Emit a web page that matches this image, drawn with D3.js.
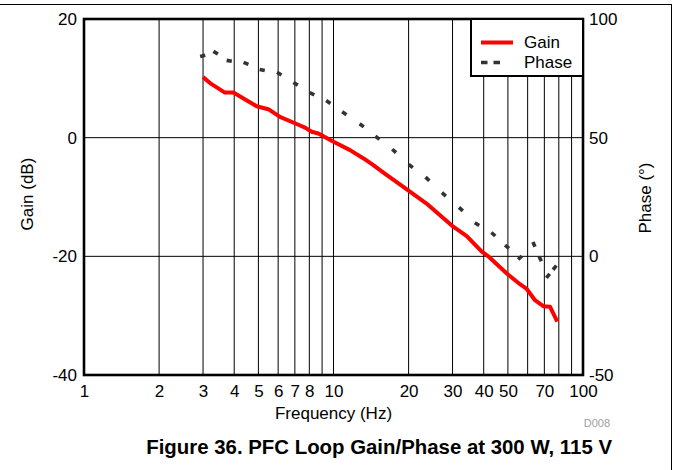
<!DOCTYPE html>
<html><head><meta charset="utf-8">
<script src="https://cdn.jsdelivr.net/npm/d3@7"></script>
<style>body{margin:0;background:#fff} svg{display:block} text{font-family:"Liberation Sans",Arial,sans-serif}</style>
</head><body><svg id="c" width="673" height="470"></svg>
<script>
const gainFreq = [3.0, 3.2, 3.67, 3.97, 4.92, 5.48, 6.1, 7.12, 7.69, 8.18, 8.7, 10.0, 11.65, 13.2, 14.4, 15.85, 19.05, 23.6, 30.2, 34.2, 39.3, 41.7, 49.5, 55.9, 59.5, 64.2, 69.3, 73.8, 78.9];
const gainDb   = [10.2, 9.2, 7.6, 7.6, 5.3, 4.8, 3.5, 2.3, 1.7, 1.0, 0.7, -0.7, -2.1, -3.5, -4.6, -5.9, -8.3, -11.1, -15.0, -16.6, -19.2, -20.0, -22.9, -24.7, -25.5, -27.4, -28.4, -28.5, -31.0];
const phaseFreq = [2.99, 3.37, 3.82, 4.46, 5.18, 6.06, 7.05, 8.2, 9.53, 11.05, 12.97, 15.0, 17.5, 20.4, 23.8, 27.7, 32.4, 37.6, 43.7, 49.6, 55.9, 63.6, 67.4, 72.4, 77.0];
const phaseDeg  = [84.5, 85.8, 82.4, 81.3, 78.5, 77.0, 72.7, 68.5, 65.0, 60.3, 55.2, 50.0, 44.4, 38.05, 32.6, 26.1, 19.9, 13.6, 9.3, 4.05, -0.6, 5.05, -1.1, -8.2, -4.8];
const gridFreqs = [2,3,4,5,6,7,8,9,10,20,30,40,50,60,70,80,90];
const freqLabels = [1,2,3,4,5,6,7,8,10,20,30,40,50,70,100];
const gainTicks = [-40,-20,0,20];
const phaseTicks = [-50,0,50,100];
const gainGrid = [-20,0];

const m = {l:84, r:583, t:19, b:375};
const svg = d3.select("#c");
const x = d3.scaleLog().domain([1,100]).range([m.l,m.r]);
const yG = d3.scaleLinear().domain([-40,20]).range([m.b,m.t]);
const yP = d3.scaleLinear().domain([-50,100]).range([m.b,m.t]);
const FS = 17;
const fmt = d => String(d);

// outer border lines
svg.append("line").attr("x1",0).attr("x2",672).attr("y1",4.5).attr("y2",4.5).attr("stroke","#000").attr("stroke-width",1);
svg.append("line").attr("x1",671.5).attr("x2",671.5).attr("y1",4).attr("y2",470).attr("stroke","#000").attr("stroke-width",1);

// grid
svg.append("g").selectAll("line").data(gridFreqs).join("line")
  .attr("x1",d=>x(d)).attr("x2",d=>x(d)).attr("y1",m.t).attr("y2",m.b)
  .attr("stroke","#000").attr("stroke-width",1);
svg.append("g").selectAll("line").data(gainGrid).join("line")
  .attr("x1",m.l).attr("x2",m.r).attr("y1",d=>yG(d)).attr("y2",d=>yG(d))
  .attr("stroke","#000").attr("stroke-width",1);

// axes
const axL = svg.append("g").attr("transform",`translate(${m.l},0)`)
  .call(d3.axisLeft(yG).tickValues(gainTicks).tickSize(0).tickPadding(7).tickFormat(fmt));
const axR = svg.append("g").attr("transform",`translate(${m.r},0)`)
  .call(d3.axisRight(yP).tickValues(phaseTicks).tickSize(0).tickPadding(6).tickFormat(fmt));
const axB = svg.append("g").attr("transform",`translate(0,${m.b})`)
  .call(d3.axisBottom(x).tickValues(freqLabels).tickSize(0).tickPadding(10).tickFormat(fmt));
[axL,axR,axB].forEach(a=>{a.select(".domain").remove();a.selectAll("text").attr("font-size",FS).attr("fill","#000").attr("font-family","Liberation Sans, Arial, sans-serif");});

// gain line
svg.append("path").datum(gainFreq.map((f,i)=>[f,gainDb[i]]))
  .attr("d", d3.line().x(d=>x(d[0])).y(d=>yG(d[1])))
  .attr("fill","none").attr("stroke","#ff0000").attr("stroke-width",4).attr("stroke-linejoin","round");

// phase dashes at each point
const pts = phaseFreq.map((f,i)=>[x(f), yP(phaseDeg[i])]);
const dashes = pts.map((p,i)=>{
  const a = i < pts.length-1 ? p : pts[i-1];
  const b = i < pts.length-1 ? pts[i+1] : p;
  const dx=b[0]-a[0], dy=b[1]-a[1], L=Math.hypot(dx,dy), h=2.6;
  return [p[0]-dx/L*h, p[1]-dy/L*h, p[0]+dx/L*h, p[1]+dy/L*h];
});
svg.append("g").selectAll("line").data(dashes).join("line")
  .attr("x1",d=>d[0]).attr("y1",d=>d[1]).attr("x2",d=>d[2]).attr("y2",d=>d[3])
  .attr("stroke","#333").attr("stroke-width",3.6);

// frame
svg.append("rect").attr("x",m.l).attr("y",m.t).attr("width",m.r-m.l).attr("height",m.b-m.t)
  .attr("fill","none").attr("stroke","#000").attr("stroke-width",2.6);

// legend
const lg = svg.append("g");
lg.append("rect").attr("x",471).attr("y",m.t).attr("width",m.r-471).attr("height",57)
  .attr("fill","#fff").attr("stroke","#000").attr("stroke-width",2);
lg.append("line").attr("x1",481).attr("x2",513).attr("y1",42.5).attr("y2",42.5).attr("stroke","#ff0000").attr("stroke-width",4);
lg.append("line").attr("x1",481).attr("x2",500).attr("y1",62.5).attr("y2",62.5).attr("stroke","#333").attr("stroke-width",3.6).attr("stroke-dasharray","6.5,6");
lg.append("text").attr("x",524).attr("y",42.5).attr("dy","0.35em").attr("font-size",FS).text("Gain");
lg.append("text").attr("x",524).attr("y",62.5).attr("dy","0.35em").attr("font-size",FS).text("Phase");

// titles
svg.append("text").attr("transform","translate(33,194) rotate(-90)").attr("text-anchor","middle").attr("font-size",FS).text("Gain (dB)");
svg.append("text").attr("transform","translate(651,198) rotate(-90)").attr("text-anchor","middle").attr("font-size",FS).text("Phase (°)");
svg.append("text").attr("x",(m.l+m.r)/2).attr("y",419).attr("text-anchor","middle").attr("font-size",FS).text("Frequency (Hz)");
svg.append("text").attr("x",610).attr("y",427).attr("text-anchor","end").attr("font-size",11).attr("fill","#a0a0a0").text("D008");
svg.append("text").attr("x",612).attr("y",454).attr("text-anchor","end").attr("font-size",20.4).attr("font-weight","bold").text("Figure 36. PFC Loop Gain/Phase at 300 W, 115 V");
</script></body></html>
